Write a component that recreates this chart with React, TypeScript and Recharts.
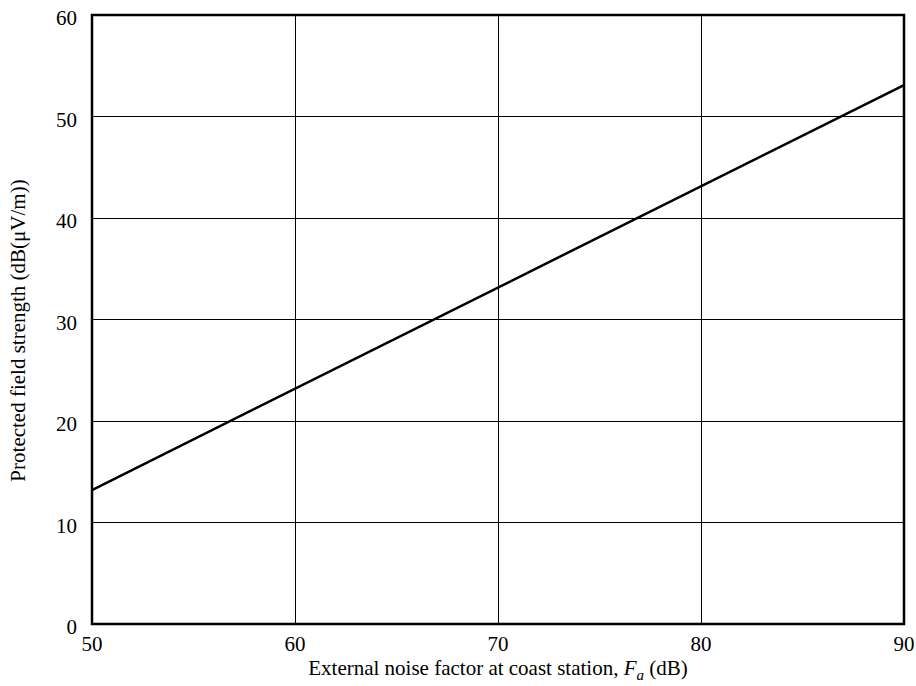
import React from 'react';
import { LineChart, Line, XAxis, YAxis, CartesianGrid, ReferenceArea, Label } from 'recharts';

const noiseFactor = [50, 90];
const fieldStrength = [13.2, 53.1];
const xTicks = [50, 60, 70, 80, 90];
const yTicks = [0, 10, 20, 30, 40, 50, 60];

const data = noiseFactor.map((x, i) => ({ x, y: fieldStrength[i] }));

const FONT = '"Liberation Serif", "Times New Roman", serif';

const XTick = (props: any) => {
  const { x, y, payload } = props;
  return (
    <text x={x} y={y + 13} textAnchor="middle" fontFamily={FONT} fontSize={21} fill="#000">
      {payload.value}
    </text>
  );
};

const YTick = (props: any) => {
  const { x, y, payload } = props;
  return (
    <text x={x} y={y + 10} textAnchor="end" fontFamily={FONT} fontSize={21} fill="#000">
      {payload.value}
    </text>
  );
};

const XTitle = (props: any) => {
  const vb = props.viewBox || {};
  const cx = vb.x + vb.width / 2;
  return (
    <text x={cx} y={675} textAnchor="middle" fontFamily={FONT} fontSize={21} fill="#000">
      <tspan>External noise factor at coast station, </tspan>
      <tspan fontStyle="italic">F</tspan>
      <tspan fontStyle="italic" fontSize={15} dy={5}>a</tspan>
      <tspan dy={-5}> (dB)</tspan>
    </text>
  );
};

const YTitle = (props: any) => {
  const vb = props.viewBox || {};
  const cy = vb.y + vb.height / 2 + 11;
  return (
    <text
      x={25}
      y={cy}
      transform={`rotate(-90, 25, ${cy})`}
      textAnchor="middle"
      fontFamily={FONT}
      fontSize={21}
      fill="#000"
    >
      Protected field strength (dB(μV/m))
    </text>
  );
};

export default function App() {
  return (
    <div style={{ position: 'absolute', left: 0, top: 0, width: 916, height: 686, background: '#fff', fontFamily: FONT }}>
      <LineChart width={916} height={686} data={data} margin={{ top: 15, right: 12, left: 0, bottom: 0 }}>
        <CartesianGrid stroke="#000" strokeWidth={1} shapeRendering="crispEdges" />
        <XAxis
          dataKey="x"
          type="number"
          domain={[50, 90]}
          ticks={xTicks}
          height={62}
          axisLine={false}
          tickLine={false}
          tickSize={0}
          tickMargin={14}
          tick={<XTick />}
        >
          <Label content={<XTitle />} />
        </XAxis>
        <YAxis
          type="number"
          domain={[0, 60]}
          ticks={yTicks}
          width={92}
          axisLine={false}
          tickLine={false}
          tickSize={0}
          tickMargin={15}
          tick={<YTick />}
        >
          <Label content={<YTitle />} />
        </YAxis>
        <ReferenceArea x1={50} x2={90} y1={0} y2={60} fill="none" stroke="#000" strokeWidth={2.5} fillOpacity={0} ifOverflow="visible" />
        <Line
          type="linear"
          dataKey="y"
          stroke="#000"
          strokeWidth={2.5}
          dot={false}
          isAnimationActive={false}
        />
      </LineChart>
    </div>
  );
}
